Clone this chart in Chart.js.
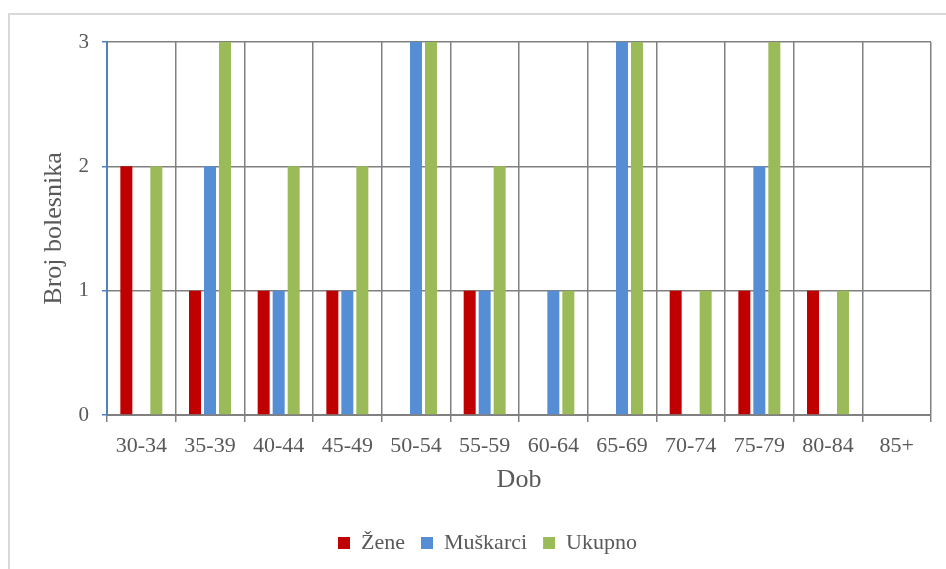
<!DOCTYPE html>
<html>
<head>
<meta charset="utf-8">
<script src="https://cdn.jsdelivr.net/npm/chart.js@4.4.0/dist/chart.umd.min.js"></script>
<style>
  body { margin: 0; background: #fff; }
  #wrap { position: relative; width: 946px; height: 569px; }
  #frame { position: absolute; left: 8px; top: 13px; right: -10px; bottom: -10px;
           border-left: 2px solid #d9d9d9; border-top: 2px solid #d9d9d9; }
  canvas { position: relative; }
</style>
</head>
<body>
<div id="wrap">
  <div id="frame"></div>
  <canvas id="c"></canvas>
</div>
<script>
// dobne skupine
const labels = ['30-34', '35-39', '40-44', '45-49', '50-54', '55-59', '60-64', '65-69', '70-74', '75-79', '80-84', '85+'];
const zene     = [2, 1, 1, 1, 0, 1, 0, 0, 1, 1, 1, 0];
const muskarci = [0, 2, 1, 1, 3, 1, 1, 3, 0, 2, 0, 0];
const ukupno   = [2, 3, 2, 2, 3, 2, 1, 3, 1, 3, 1, 0];
const yTicks = [0, 1, 2, 3];

const txt = '#595959';
const serif = "'Liberation Serif', 'Times New Roman', serif";

// legenda je u originalu centrirana na cijeli okvir, ne na graf
const legendShift = {
    id: 'legendShift',
    afterLayout(chart) {
        const lg = chart.legend;
        if (lg) { lg.left += 22; lg.right += 22; }
    }
};

new Chart(document.getElementById('c'), {
    type: 'bar',
    data: {
        labels: labels,
        datasets: [
            { label: 'Žene', data: zene, backgroundColor: '#C00000' },
            { label: 'Muškarci', data: muskarci, backgroundColor: '#558ED5' },
            { label: 'Ukupno', data: ukupno, backgroundColor: '#9BBB59' }
        ]
    },
    plugins: [legendShift],
    options: {
        responsive: true,
        maintainAspectRatio: false,
        animation: false,
        datasets: { bar: { categoryPercentage: 0.655, barPercentage: 0.8 } },
        layout: { padding: { left: 0, right: 15, top: 42, bottom: 9 } },
        plugins: {
            tooltip: { enabled: false },
            legend: {
                position: 'bottom',
                maxHeight: 44,
                labels: {
                    boxWidth: 12, boxHeight: 12, padding: 16,
                    color: txt, font: { family: serif, size: 22 }
                }
            }
        },
        scales: {
            x: {
                afterFit: s => { s.height = 101; },
                grid: { offset: true, color: '#808080', lineWidth: 1.5, tickLength: 7 },
                border: { color: '#808080', width: 2 },
                ticks: { color: txt, font: { family: serif, size: 22 }, padding: 11 },
                title: { display: true, text: 'Dob', color: txt,
                         font: { family: serif, size: 26 }, padding: { top: 0, bottom: 20 } }
            },
            y: {
                min: 0, max: 3,
                afterFit: s => { s.width = 107; },
                afterBuildTicks: s => { s.ticks = yTicks.map(v => ({ value: v })); },
                grid: { color: '#808080', lineWidth: 1.5, tickColor: '#4F81BD', tickLength: 5 },
                border: { color: '#4F81BD', width: 2 },
                ticks: { color: txt, font: { family: serif, size: 21 }, padding: 13 },
                title: { display: true, text: 'Broj bolesnika', color: txt,
                         font: { family: serif, size: 26 }, padding: { top: 39, bottom: 0 } }
            }
        }
    }
});
</script>
</body>
</html>
